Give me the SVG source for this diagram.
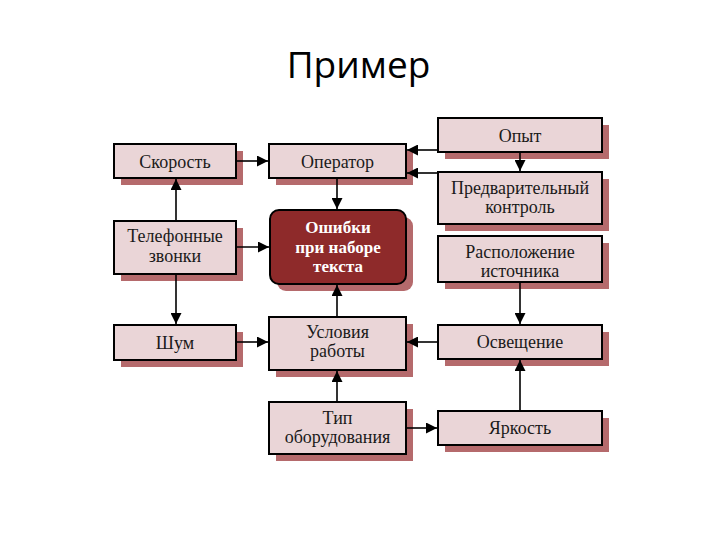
<svg xmlns="http://www.w3.org/2000/svg" width="720" height="540" viewBox="0 0 720 540">
<defs>
<marker id="ah" viewBox="0 0 10 10" refX="10" refY="5" markerWidth="11" markerHeight="11" markerUnits="userSpaceOnUse" orient="auto">
<path d="M0,0 L10,5 L0,10 z" fill="#000"/>
</marker>
</defs>
<style>
.sh{fill:#B56A6C}
.bx{fill:#EAD5D7;stroke:#000;stroke-width:2}
.t{font-family:"Liberation Serif","DejaVu Serif",serif;font-size:18px;fill:#1a1a1a;text-anchor:middle}
.tw{font-family:"Liberation Serif","DejaVu Serif",serif;font-size:17px;font-weight:bold;fill:#fff;text-anchor:middle}
.c{stroke:#000;stroke-width:1.6;fill:none;marker-end:url(#ah)}
</style>
<rect width="720" height="540" fill="#fff"/>
<text x="358.5" y="78" font-family="Open Sans, Liberation Sans, sans-serif" font-size="37" text-anchor="middle" fill="#000">Пример</text>

<g id="skorost">
<rect class="sh" x="121" y="151" width="122" height="34"/>
<rect class="bx" x="114" y="144" width="122" height="34"/>
<text class="t" x="175" y="167.5">Скорость</text>
</g>
<g id="operator">
<rect class="sh" x="276" y="151" width="137" height="34"/>
<rect class="bx" x="269" y="144" width="137" height="34"/>
<text class="t" x="337.5" y="167.5">Оператор</text>
</g>
<g id="telefon">
<rect class="sh" x="121" y="228" width="122" height="53"/>
<rect class="bx" x="114" y="221" width="122" height="53"/>
<text class="t" x="175" y="242">Телефонные</text>
<text class="t" x="175" y="262">звонки</text>
</g>
<g id="oshibki">
<rect x="277" y="217" width="136" height="74" rx="9" fill="#B56A6C"/>
<rect x="270" y="210" width="136" height="74" rx="9" fill="#8E2A2A" stroke="#000" stroke-width="2"/>
<text class="tw" x="338" y="233">Ошибки</text>
<text class="tw" x="338" y="252.5">при наборе</text>
<text class="tw" x="338" y="272">текста</text>
</g>
<g id="opyt">
<rect class="sh" x="445" y="125" width="164" height="34"/>
<rect class="bx" x="438" y="118" width="164" height="34"/>
<text class="t" x="520" y="141.5">Опыт</text>
</g>
<g id="predv">
<rect class="sh" x="445" y="179" width="164" height="52"/>
<rect class="bx" x="438" y="172" width="164" height="52"/>
<text class="t" x="520" y="194">Предварительный</text>
<text class="t" x="520" y="213">контроль</text>
</g>
<g id="raspol">
<rect class="sh" x="445" y="243" width="164" height="46"/>
<rect class="bx" x="438" y="236" width="164" height="46"/>
<text class="t" x="520" y="258">Расположение</text>
<text class="t" x="520" y="277">источника</text>
</g>
<g id="shum">
<rect class="sh" x="121" y="332" width="122" height="35"/>
<rect class="bx" x="114" y="325" width="122" height="35"/>
<text class="t" x="175" y="348.5">Шум</text>
</g>
<g id="usloviya">
<rect class="sh" x="276" y="324" width="137" height="53"/>
<rect class="bx" x="269" y="317" width="137" height="53"/>
<text class="t" x="337.5" y="338">Условия</text>
<text class="t" x="337.5" y="357">работы</text>
</g>
<g id="tip">
<rect class="sh" x="276" y="409" width="137" height="52"/>
<rect class="bx" x="269" y="402" width="137" height="52"/>
<text class="t" x="337.5" y="424">Тип</text>
<text class="t" x="337.5" y="443">оборудования</text>
</g>
<g id="osveshenie">
<rect class="sh" x="445" y="332" width="164" height="34"/>
<rect class="bx" x="438" y="325" width="164" height="34"/>
<text class="t" x="520" y="348">Освещение</text>
</g>
<g id="yarkost">
<rect class="sh" x="445" y="418" width="164" height="34"/>
<rect class="bx" x="438" y="411" width="164" height="34"/>
<text class="t" x="520" y="433.5">Яркость</text>
</g>

<g id="connectors">
<path class="c" d="M236,161 H268"/>
<path class="c" d="M438,150 H407"/>
<path class="c" d="M438,173 H407"/>
<path class="c" d="M520,152 V171"/>
<path class="c" d="M337,178 V209"/>
<path class="c" d="M176,221 V179"/>
<path class="c" d="M236,247 H269"/>
<path class="c" d="M176,274 V324"/>
<path class="c" d="M236,342 H268"/>
<path class="c" d="M337,317 V285"/>
<path class="c" d="M438,342 H407"/>
<path class="c" d="M520,282 V324"/>
<path class="c" d="M337,402 V371"/>
<path class="c" d="M406,428 H437"/>
<path class="c" d="M520,411 V360"/>
</g>
</svg>
